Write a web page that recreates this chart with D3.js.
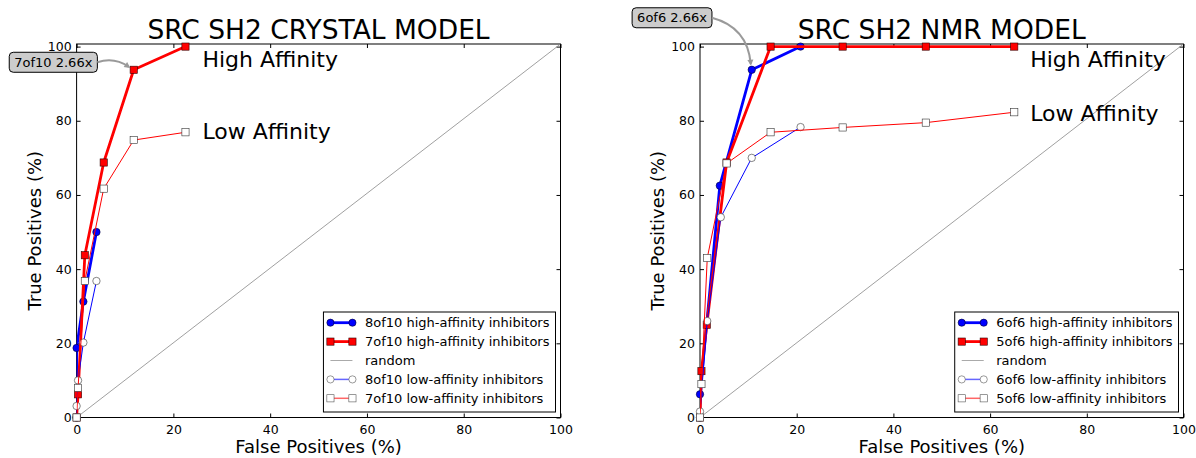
<!DOCTYPE html>
<html><head><meta charset="utf-8">
<script src="https://cdn.jsdelivr.net/npm/d3@7"></script>
<style>
html,body{margin:0;padding:0;background:#fff;}
svg text{font-family:"DejaVu Sans",sans-serif;fill:#000;}
</style></head>
<body><svg id="chart" width="1196" height="458"></svg>
<script>
// ---------- data ----------
const axisTicks = [0, 20, 40, 60, 80, 100];
const titles = ["SRC SH2 CRYSTAL MODEL", "SRC SH2 NMR MODEL"];
const xLabel = "False Positives (%)";
const yLabel = "True Positives (%)";

// Crystal model
const crystalHighAFP = [0, 0, 1.4, 4.1];
const crystalHighATP = [0, 18.75, 31.25, 50];
const crystalHighBFP = [0, 0.3, 1.7, 5.6, 11.8, 22.5];
const crystalHighBTP = [0, 6.25, 43.75, 68.75, 93.75, 100];
const crystalLowAFP = [0, 0, 0.3, 1.4, 4.1];
const crystalLowATP = [0, 3.1, 10, 20.2, 36.8];
const crystalLowBFP = [0, 0.3, 1.7, 5.6, 11.8, 22.5];
const crystalLowBTP = [0, 8, 36.8, 61.7, 74.8, 76.9];
const crystalNames = ["8of10 high-affinity inhibitors", "7of10 high-affinity inhibitors", "random",
                      "8of10 low-affinity inhibitors", "7of10 low-affinity inhibitors"];

// NMR model
const nmrHighAFP = [0, 0, 4.1, 10.7, 20.8];
const nmrHighATP = [0, 6.25, 62.5, 93.75, 100];
const nmrHighBFP = [0, 0.3, 1.4, 5.5, 14.6, 29.5, 46.7, 65];
const nmrHighBTP = [0, 12.5, 25, 68.75, 100, 100, 100, 100];
const nmrLowAFP = [0, 0, 1.5, 4.3, 10.7, 20.8];
const nmrLowATP = [0, 1.6, 26, 54, 70, 78.3];
const nmrLowBFP = [0, 0.3, 1.5, 5.5, 14.6, 29.5, 46.7, 65];
const nmrLowBTP = [0, 9, 43, 68.5, 76.9, 78.2, 79.5, 82.3];
const nmrNames = ["6of6 high-affinity inhibitors", "5of6 high-affinity inhibitors", "random",
                  "6of6 low-affinity inhibitors", "5of6 low-affinity inhibitors"];

const xDomain = [0, 100];
const yDomain = [0, 100.7];
const randomFP = [0, 100];
const randomTP = [0, 100.7];

// annotations: [label, FP, TP]
const crystalNote = ["7of10 2.66x", 11.8, 93.75];
const nmrNote = ["6of6 2.66x", 10.7, 93.75];
const affinityLabels = ["High Affinity", "Low Affinity"];
const crystalLabelTP = [96.5, 77.2];
const nmrLabelTP = [96.6, 82.2];
const crystalLabelFP = 26;
const nmrLabelFP = 68.3;

// ---------- drawing ----------
const svg = d3.select("#chart");
const zip = (a, b) => a.map((v, i) => [v, b[i]]);

function panel(opt) {
  const x = d3.scaleLinear().domain(xDomain).range([opt.left, opt.right]);
  const y = d3.scaleLinear().domain(yDomain).range([417.5, 44]);
  const [x0, x1] = xDomain.map(x), [y0, y1] = yDomain.map(y);
  const g = svg.append("g");
  const clipId = "clip" + opt.id;
  g.append("clipPath").attr("id", clipId).append("rect")
    .attr("x", x0).attr("y", y1).attr("width", x1 - x0).attr("height", y0 - y1);

  // title
  g.append("text").attr("x", (x0 + x1) / 2).attr("y", 38.5).attr("text-anchor", "middle")
    .style("font-size", "26.5px").text(opt.title);
  // axis labels
  g.append("text").attr("x", (x0 + x1) / 2).attr("y", 453).attr("text-anchor", "middle")
    .style("font-size", "18px").text(xLabel);
  g.append("text").attr("transform", `translate(${x0 - 36},${(y0 + y1) / 2}) rotate(-90)`)
    .attr("text-anchor", "middle").style("font-size", "18px").text(yLabel);

  // axes with inward ticks
  const ax = d3.axisBottom(x).tickValues(axisTicks).tickSize(-4).tickPadding(8).tickFormat(d3.format("d"));
  const ay = d3.axisLeft(y).tickValues(axisTicks).tickSize(-4).tickPadding(8).tickFormat(d3.format("d"));
  const axT = d3.axisTop(x).tickValues(axisTicks).tickSize(-4).tickFormat("");
  const ayR = d3.axisRight(y).tickValues(axisTicks).tickSize(-4).tickFormat("");
  const gx = g.append("g").attr("transform", `translate(0,${y0})`).call(ax);
  const gy = g.append("g").attr("transform", `translate(${x0},0)`).call(ay);
  const gt = g.append("g").attr("transform", `translate(0,${y1})`).call(axT);
  const gr = g.append("g").attr("transform", `translate(${x1},0)`).call(ayR);
  [gx, gy, gt, gr].forEach(a => {
    a.select(".domain").remove();
    a.selectAll(".tick line").attr("stroke", "#000").attr("stroke-width", 1);
    a.selectAll("text").style("font-size", "12.5px").style("font-family", "DejaVu Sans").attr("fill", "#000");
  });
  gx.selectAll("text").attr("dy", "0.71em");
  gy.selectAll("text").attr("x", -5);

  // frame
  g.append("rect").attr("x", x0).attr("y", y1).attr("width", x1 - x0).attr("height", y0 - y1)
    .attr("fill", "none").attr("stroke", "#000").attr("stroke-width", 1);

  const line = d3.line().x(d => x(d[0])).y(d => y(d[1]));
  const series = [
    {pts: zip(opt.hA[0], opt.hA[1]), color: "#0000ff", w: 2.8, marker: "circle", fill: "#0000ff"},
    {pts: zip(opt.hB[0], opt.hB[1]), color: "#ff0000", w: 2.8, marker: "square", fill: "#ff0000"},
    {pts: zip(randomFP, randomTP), color: "#888", w: 0.8, marker: null},
    {pts: zip(opt.lA[0], opt.lA[1]), color: "#0000ff", w: 1, marker: "circle", fill: "#fff"},
    {pts: zip(opt.lB[0], opt.lB[1]), color: "#ff0000", w: 1, marker: "square", fill: "#fff"}
  ];
  series.forEach(s => {
    const sg = g.append("g");
    sg.append("path").datum(s.pts).attr("d", line).attr("fill", "none").attr("clip-path", `url(#${clipId})`)
      .attr("stroke", s.color).attr("stroke-width", s.w).attr("stroke-linejoin", "round");
    if (s.marker === "circle") {
      sg.selectAll(null).data(s.pts).enter().append("circle")
        .attr("cx", d => x(d[0])).attr("cy", d => y(d[1])).attr("r", 3.7)
        .attr("fill", s.fill).attr("stroke", s.fill === "#fff" ? "#333" : "#000033").attr("stroke-width", 0.6);
    } else if (s.marker === "square") {
      sg.selectAll(null).data(s.pts).enter().append("rect")
        .attr("x", d => x(d[0]) - 3.6).attr("y", d => y(d[1]) - 3.6).attr("width", 7.2).attr("height", 7.2)
        .attr("fill", s.fill).attr("stroke", s.fill === "#fff" ? "#333" : "#330000").attr("stroke-width", 0.6);
    }
  });

  // affinity labels
  affinityLabels.forEach((t, i) => {
    g.append("text").attr("x", x(opt.labelFP)).attr("y", y(opt.labelTP[i])).attr("dy", "0.36em")
      .style("font-size", "22px").text(t);
  });

  // annotation
  const px = x(opt.note[1]), py = y(opt.note[2]);
  const bx = px + opt.boxDx, by = py + opt.boxDy; // box center
  const boxRect = g.append("rect");
  const noteText = g.append("text").attr("x", bx).attr("y", by + 4.6).attr("text-anchor", "middle")
    .style("font-size", "13px").text(opt.note[0]);
  const tw = noteText.node().getComputedTextLength();
  const bw = tw + 10, bh = 20;
  boxRect.attr("x", bx - bw / 2).attr("y", by - bh / 2).attr("width", bw).attr("height", bh)
    .attr("rx", 4).attr("fill", "#cccccc").attr("stroke", "#000").attr("stroke-width", 1);
  // curved arrow
  const sx = bx + bw / 2, sy = by;
  const ex = px + opt.endDx, ey = py + opt.endDy;
  const mx = (sx + ex) / 2, my = (sy + ey) / 2;
  const f = opt.rad;
  const cx = mx - f * (ey - sy), cy = my + f * (ex - sx);
  g.append("path").attr("d", `M${sx},${sy} Q${cx},${cy} ${ex},${ey}`)
    .attr("fill", "none").attr("stroke", "#9a9a9a").attr("stroke-width", 2);
  const ang = Math.atan2(ey - cy, ex - cx);
  const ah = 6, aw = 3;
  const hx = ex + Math.cos(ang) * 2, hy = ey + Math.sin(ang) * 2;
  g.append("path").attr("d",
    `M${hx},${hy} L${hx - ah * Math.cos(ang) + aw * Math.sin(ang)},${hy - ah * Math.sin(ang) - aw * Math.cos(ang)} ` +
    `L${hx - ah * Math.cos(ang) - aw * Math.sin(ang)},${hy - ah * Math.sin(ang) + aw * Math.cos(ang)} Z`)
    .attr("fill", "#9a9a9a");

  // legend
  const leg = g.append("g");
  const legBox = leg.append("rect");
  const rowY = [10.7, 29.6, 48.5, 67.4, 86.3];
  const textX = 41.5;
  let maxW = 0;
  const legItems = [
    {c: "#0000ff", w: 2.8, m: "circle", fill: "#0000ff"},
    {c: "#ff0000", w: 2.8, m: "square", fill: "#ff0000"},
    {c: "#aaa", w: 1, m: null},
    {c: "#6666ff", w: 1.5, m: "circle", fill: "#fff"},
    {c: "#ff6666", w: 1.5, m: "square", fill: "#fff"}
  ];
  legItems.forEach((it, i) => {
    const yy = rowY[i];
    leg.append("line").attr("x1", 7).attr("x2", 29).attr("y1", yy).attr("y2", yy)
      .attr("stroke", it.c).attr("stroke-width", it.w);
    [7, 29].forEach(mxx => {
      if (it.m === "circle") leg.append("circle").attr("cx", mxx).attr("cy", yy).attr("r", 3.6)
        .attr("fill", it.fill).attr("stroke", it.fill === "#fff" ? "#555" : "#000033").attr("stroke-width", 0.6);
      if (it.m === "square") leg.append("rect").attr("x", mxx - 3.6).attr("y", yy - 3.6).attr("width", 7.2).attr("height", 7.2)
        .attr("fill", it.fill).attr("stroke", it.fill === "#fff" ? "#555" : "#330000").attr("stroke-width", 0.6);
    });
    const t = leg.append("text").attr("x", textX).attr("y", yy + 4.6).style("font-size", "13px").text(opt.names[i]);
    maxW = Math.max(maxW, t.node().getComputedTextLength());
  });
  const lw = textX + maxW + 6, lh = 100;
  legBox.attr("width", lw).attr("height", lh)
    .attr("fill", "#fff").attr("stroke", "#000").attr("stroke-width", 1);
  leg.attr("transform", `translate(${x1 - 5 - lw},${y0 - 5.5 - lh})`);
}

panel({id: 1, left: 76.6, right: 560.5, title: titles[0], names: crystalNames,
  hA: [crystalHighAFP, crystalHighATP], hB: [crystalHighBFP, crystalHighBTP],
  lA: [crystalLowAFP, crystalLowATP], lB: [crystalLowBFP, crystalLowBTP],
  labelFP: crystalLabelFP, labelTP: crystalLabelTP,
  note: crystalNote, boxDx: -80.4, boxDy: -7.5, endDx: -5, endDy: -3, rad: -0.25});
panel({id: 2, left: 700, right: 1183.5, title: titles[1], names: nmrNames,
  hA: [nmrHighAFP, nmrHighATP], hB: [nmrHighBFP, nmrHighBTP],
  lA: [nmrLowAFP, nmrLowATP], lB: [nmrLowBFP, nmrLowBTP],
  labelFP: nmrLabelFP, labelTP: nmrLabelTP,
  note: nmrNote, boxDx: -79.7, boxDy: -52, endDx: -1, endDy: -6, rad: -0.35});
</script></body></html>
